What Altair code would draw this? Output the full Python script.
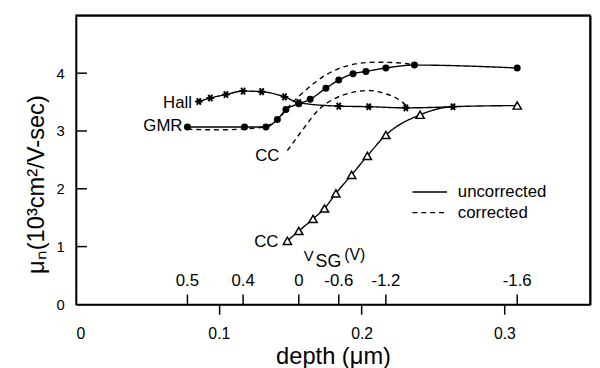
import altair as alt
import pandas as pd

# ---- data ----
gmr_x = [0.078, 0.118, 0.133, 0.141, 0.147, 0.156, 0.164, 0.175, 0.184, 0.194, 0.203, 0.217, 0.237, 0.309]
gmr_y = [3.07, 3.07, 3.07, 3.20, 3.37, 3.47, 3.55, 3.74, 3.88, 3.99, 4.03, 4.09, 4.14, 4.09]

gmr_corr_x = [0.078, 0.100, 0.120, 0.133, 0.142, 0.150, 0.161, 0.173, 0.184, 0.196, 0.210, 0.225, 0.237]
gmr_corr_y = [3.03, 3.02, 3.04, 3.08, 3.22, 3.45, 3.71, 3.94, 4.08, 4.16, 4.19, 4.18, 4.14]

hall_x = [0.086, 0.094, 0.105, 0.117, 0.130, 0.146, 0.156, 0.184, 0.205, 0.231, 0.264]
hall_y = [3.51, 3.57, 3.63, 3.69, 3.68, 3.59, 3.49, 3.43, 3.42, 3.40, 3.42]

cc_x = [0.148, 0.156, 0.166, 0.174, 0.182, 0.193, 0.204, 0.217, 0.241, 0.309]
cc_y = [1.10, 1.27, 1.48, 1.66, 1.92, 2.24, 2.57, 2.93, 3.28, 3.44]

cc_corr_x = [0.148, 0.153, 0.159, 0.170, 0.182, 0.196, 0.205, 0.216, 0.228, 0.233]
cc_corr_y = [2.66, 2.83, 3.03, 3.37, 3.57, 3.68, 3.70, 3.65, 3.51, 3.40]

vsg_depth = [0.078, 0.117, 0.156, 0.184, 0.217, 0.309]
vsg_labels = ["0.5", "0.4", "0", "-0.6", "-1.2", "-1.6"]

legend_kinds = ["uncorrected", "corrected"]

x_domain = [0, 0.36]
y_domain = [0, 5]
x_ticks = [0, 0.1, 0.2, 0.3]
y_ticks = [0, 1, 2, 3, 4]

FONT = "Liberation Sans"
W, H = 521, 293

def frame(xs, ys, series, kind):
    return pd.DataFrame({"depth": xs, "mu": ys, "series": series, "kind": kind})

# the CC curve joins the Hall curve at Hall's last point before reaching its own last point
cc_line_x = cc_x[:-1] + [hall_x[-1]] + cc_x[-1:]
cc_line_y = cc_y[:-1] + [hall_y[-1]] + cc_y[-1:]

lines_df = pd.concat([
    frame(gmr_x, gmr_y, "GMR", "uncorrected"),
    frame(gmr_corr_x, gmr_corr_y, "GMR corr", "corrected"),
    frame(hall_x, hall_y, "Hall", "uncorrected"),
    frame(cc_line_x, cc_line_y, "CC", "uncorrected"),
    frame(cc_corr_x, cc_corr_y, "CC corr", "corrected"),
], ignore_index=True)

xscale = alt.Scale(domain=x_domain, nice=False, zero=True)
yscale = alt.Scale(domain=y_domain, nice=False, zero=True)
dash_scale = alt.Scale(domain=legend_kinds, range=[[1, 0], [5, 4]])

# encodings without an axis of their own (used by every helper layer)
XN = alt.X("depth:Q", scale=xscale, axis=None)
YN = alt.Y("mu:Q", scale=yscale, axis=None)

X = alt.X("depth:Q", scale=xscale, axis=alt.Axis(
    values=x_ticks, labelExpr="datum.value == 0 ? '0' : format(datum.value, '.1f')",
    title="depth (μm)", titleFontSize=24, titleFont=FONT, titleFontWeight="normal",
    titlePadding=3, labelFont=FONT, labelFontSize=16, labelPadding=12,
    tickSize=10, tickWidth=1.5,
    tickColor={"condition": {"test": "datum.value == 0", "value": "transparent"}, "value": "black"},
    domainColor="black", domainWidth=1.5, grid=False, labelColor="black", titleColor="black"))
Y = alt.Y("mu:Q", scale=yscale, axis=alt.Axis(
    values=y_ticks, format="d", title="μₙ(10³cm²/V-sec)", titleFontSize=24, titleFont=FONT,
    titleFontWeight="normal", titlePadding=8, titleY=171, labelFont=FONT, labelFontSize=15,
    ticks=False, tickSize=0, labelPadding=12, domainColor="black", domainWidth=1.5,
    grid=False, labelColor="black", titleColor="black"))

lines = alt.Chart(lines_df).mark_line(interpolate="monotone", color="black", strokeWidth=1.4).encode(
    x=X, y=Y, detail="series:N",
    strokeDash=alt.StrokeDash("kind:N", scale=dash_scale, legend=None))

# top and right sides of the frame, drawn as axis domains
frame_df = pd.DataFrame({"depth": [x_domain[1]], "mu": [y_domain[1]]})
frame_axes = alt.Chart(frame_df).mark_point(opacity=0).encode(
    x=alt.X("depth:Q", scale=xscale, axis=alt.Axis(orient="top", labels=False, ticks=False, title=None,
                                                   grid=False, domain=True, domainColor="black", domainWidth=2)),
    y=alt.Y("mu:Q", scale=yscale, axis=alt.Axis(orient="right", labels=False, ticks=False, title=None,
                                                grid=False, domain=True, domainColor="black", domainWidth=2)))

gmr_pts = alt.Chart(frame(gmr_x, gmr_y, "GMR", "u")).mark_point(shape="circle", filled=True, color="black", size=50, opacity=1).encode(
    x=XN, y=YN)

star = "M-1,0L1,0M-0.5,-0.866L0.5,0.866M-0.5,0.866L0.5,-0.866"
hall_pts = alt.Chart(frame(hall_x, hall_y, "Hall", "u")).mark_point(shape=star, filled=False, color="black", size=60, strokeWidth=2, opacity=1).encode(
    x=XN, y=YN)

cc_pts = alt.Chart(frame(cc_x, cc_y, "CC", "u")).mark_point(shape="triangle-up", filled=True, fill="white", stroke="black", size=70, strokeWidth=1.5, opacity=1).encode(
    x=XN, y=YN)

# series labels at the first point of each series
lab_specs = [("Hall", hall_x[0], hall_y[0], -7, 2), ("GMR", gmr_x[0], gmr_y[0], -5, -1),
             ("CC", cc_corr_x[0], cc_corr_y[0], -8, 5), ("CC", cc_x[0], cc_y[0], -9, 1)]
label_layers = []
for txt, lx, ly, ddx, ddy in lab_specs:
    label_layers.append(alt.Chart(pd.DataFrame({"depth": [lx], "mu": [ly], "t": [txt]})).mark_text(
        align="right", baseline="middle", font=FONT, fontSize=17, dx=ddx, dy=ddy, color="black").encode(
        x=XN, y=YN, text="t:N"))

# legend drawn as a small key, one layer per row
leg_layers = []
for i, kind in enumerate(legend_kinds):
    row_y = 179 + 21 * i
    kdf = pd.DataFrame({"kind": [kind]})
    leg_layers.append(alt.Chart(kdf).mark_rule(color="black", strokeWidth=1.4).encode(
        x=alt.value(341), x2=alt.value(376), y=alt.value(row_y),
        strokeDash=alt.StrokeDash("kind:N", scale=dash_scale, legend=None)))
    leg_layers.append(alt.Chart(kdf).mark_text(font=FONT, fontSize=17, align="left", baseline="middle", color="black").encode(
        x=alt.value(387), y=alt.value(row_y), text="kind:N"))

# secondary V_SG scale (ticks pointing up from the bottom axis)
vsg_df = pd.DataFrame({"depth": vsg_depth, "lab": vsg_labels})
vsg_ticks = alt.Chart(vsg_df).mark_rule(color="black", strokeWidth=1.5).encode(
    x=XN, y=alt.value(H), y2=alt.value(H - 10))
vsg_text = alt.Chart(vsg_df).mark_text(font=FONT, fontSize=17, baseline="middle", color="black").encode(
    x=XN, y=alt.value(269), text="lab:N")

vsg_title_df = pd.DataFrame({"depth": [vsg_depth[2]]})
vsg_v = alt.Chart(vsg_title_df).mark_text(font=FONT, fontSize=15, align="left", baseline="middle", dx=5, color="black").encode(
    x=XN, y=alt.value(244), text=alt.value("V"))
vsg_sg = alt.Chart(vsg_title_df).mark_text(font=FONT, fontSize=18, align="left", baseline="middle", dx=17, color="black").encode(
    x=XN, y=alt.value(250), text=alt.value("SG"))
vsg_u = alt.Chart(vsg_title_df).mark_text(font=FONT, fontSize=16, align="left", baseline="middle", dx=46, color="black").encode(
    x=XN, y=alt.value(243), text=alt.value("(V)"))

# left axis ticks pointing inward
ytick_df = pd.DataFrame({"mu": y_ticks[1:]})
ytk = alt.Chart(ytick_df).mark_rule(color="black", strokeWidth=1.5).encode(
    y=YN, x=alt.value(1), x2=alt.value(11))

chart = alt.layer(lines, frame_axes, gmr_pts, hall_pts, cc_pts, *label_layers, *leg_layers,
                  vsg_ticks, vsg_text, vsg_v, vsg_sg, vsg_u, ytk).resolve_axis(
    x="independent", y="independent").properties(
    width=W, height=H,
    autosize=alt.AutoSizeParams(type="none"),
    padding={"left": 69, "top": 5, "right": 2, "bottom": 62},
).configure(background="white", view=alt.ViewConfig(stroke="black", strokeWidth=1.5))

chart.save("out.html", embed_options={"renderer": "svg", "actions": False})
